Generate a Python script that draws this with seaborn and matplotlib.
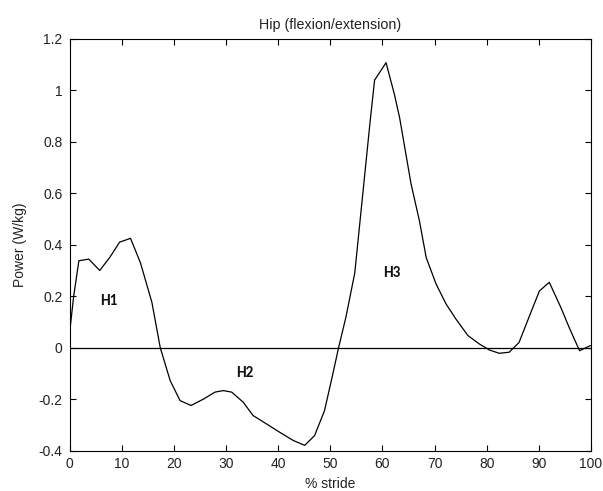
import matplotlib
matplotlib.use("Agg")
import matplotlib.pyplot as plt
import seaborn as sns
import pandas as pd

stride = [0, 0.8, 1.8, 3.7, 5.8, 7.8, 9.6, 11.7, 13.6, 14.5, 15.8, 17.4, 19.3, 21.2,
          23.3, 25.7, 27.9, 29.5, 31.1, 33.3, 35.2, 37.8, 40.3, 42.9, 45.1, 47.0,
          48.9, 50.5, 51.6, 53.0, 54.7, 56.3, 57.6, 58.5, 60.7, 62.3, 63.3, 65.5,
          67.1, 68.4, 70.3, 72.2, 74.1, 76.4, 78.6, 80.5, 82.4, 84.3, 86.2, 88.1,
          90.1, 92.0, 94.2, 95.8, 97.8, 99.9]
power = [0.054, 0.20, 0.338, 0.344, 0.30, 0.353, 0.41, 0.425, 0.33, 0.267, 0.176,
         0.0, -0.128, -0.206, -0.225, -0.20, -0.173, -0.167, -0.173, -0.212,
         -0.264, -0.297, -0.329, -0.361, -0.38, -0.342, -0.245, -0.102, 0.0,
         0.118, 0.29, 0.61, 0.87, 1.04, 1.108, 0.985, 0.894, 0.636, 0.493, 0.35,
         0.247, 0.17, 0.111, 0.047, 0.014, -0.009, -0.022, -0.018, 0.02, 0.118,
         0.22, 0.254, 0.157, 0.079, -0.012, 0.008]

labels = ["H1", "H2", "H3"]
label_x = [7.5, 33.6, 61.8]
label_y = [0.18, -0.097, 0.29]

xticks = list(range(0, 101, 10))
yticks = [-0.4, -0.2, 0, 0.2, 0.4, 0.6, 0.8, 1, 1.2]

sns.set_theme(style="white")
plt.rcParams['font.family'] = ['Liberation Sans', 'DejaVu Sans']

df = pd.DataFrame({"stride": stride, "power": power})

fig = plt.figure(figsize=(6.03, 4.91), dpi=100)
ax = fig.add_axes([69.5 / 603, 1 - 450.5 / 491, (591 - 69.5) / 603, (450.5 - 39) / 491])

sns.lineplot(data=df, x="stride", y="power", ax=ax, color="black", linewidth=0.9,
             estimator=None, sort=False)
ax.axhline(0, color="black", linewidth=0.9)

for t, lx, ly in zip(labels, label_x, label_y):
    ax.text(lx, ly, t, fontsize=11, fontweight="bold", ha="center", va="center",
            family=["Carlito", "Liberation Sans", "DejaVu Sans"], color="#111111")

ax.set_xlim(0, 100)
ax.set_ylim(-0.4, 1.2)
ax.set_xticks(xticks)
ax.set_yticks(yticks)
ax.set_xticklabels([str(v) for v in xticks])
ax.set_yticklabels(["-0.4", "-0.2", "0", "0.2", "0.4", "0.6", "0.8", "1", "1.2"])
ax.tick_params(direction="in", top=True, right=True, bottom=True, left=True,
               length=4, width=0.8, color="black", labelsize=10, labelcolor="#222222")
ax.tick_params(axis="x", pad=5)
ax.tick_params(axis="y", pad=5)
for s in ax.spines.values():
    s.set_color("black")
    s.set_linewidth(0.8)

ax.set_xlabel("% stride", fontsize=10, color="#222222", labelpad=4)
ax.set_ylabel("Power (W/kg)", fontsize=10, color="#222222", labelpad=8)
ax.set_title("Hip (flexion/extension)", fontsize=10.3, color="#222222", pad=7)

fig.savefig("out.png", dpi=100, facecolor="white")
